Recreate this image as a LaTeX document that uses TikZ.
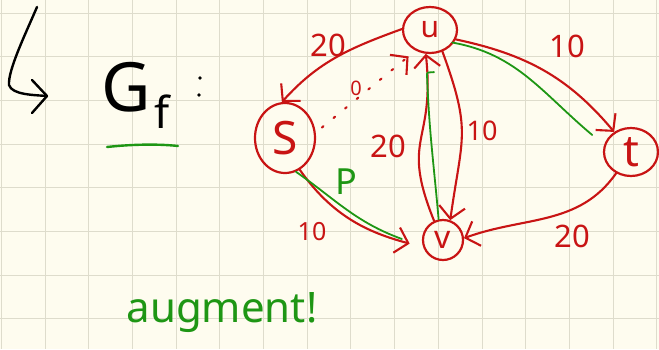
\documentclass[tikz,border=0pt]{standalone}
\usepackage{fontspec}
\setmainfont{Noto Sans}
\usetikzlibrary{arrows.meta,shapes.geometric}
\definecolor{paper}{HTML}{FEFCEF}
\definecolor{gridc}{HTML}{DEDCCC}
\definecolor{ink}{HTML}{C81414}
\definecolor{hl}{HTML}{1E9614}
\begin{document}
\begin{tikzpicture}[x=1pt,y=1pt,
  vert/.style={draw=ink,line width=2.2pt,ellipse,inner sep=0pt,text=ink},
  edge/.style={draw=ink,line width=2.1pt,line cap=round,
    -{Straight Barb[length=12pt,width=26pt,line width=2.1pt]}},
  hlpath/.style={draw=hl,line width=1.8pt,line cap=round},
  lab/.style={text=ink,inner sep=0pt,font=\fontsize{31}{31}\selectfont},
  fs/.style={font=\fontsize{#1}{#1}\selectfont}]
\fill[paper] (0,0) rectangle (659,-349);
\useasboundingbox (0,0) rectangle (659,-349);
\foreach \i in {0,...,15} \draw[gridc,line width=1pt] ({1.3+43.7*\i},0) -- ++(0,-349);
\foreach \j in {0,...,7} \draw[gridc,line width=1pt] (0,{-13-43.7*\j}) -- ++(659,0);

% left mark
\draw[black,line width=2.4pt,line cap=round,line join=round]
  (37,-7) .. controls (25,-35) and (8,-70) .. (9,-85) .. controls (12,-95) and (35,-95) .. (47,-96);
\draw[black,line width=2.4pt,line cap=round,line join=round] (32,-80) -- (47,-96) -- (32,-113);
\node[inner sep=0pt,fs=68] (G) at (126,-87) {G};
\node[inner sep=0pt,fs=44,anchor=center] (f) at (162,-112) {f};
\fill[black] (200,-78) circle (1.8pt) (199,-95) circle (1.8pt);
\draw[hl,line width=2.4pt,line cap=round] (107,-147) .. controls (135,-144) and (160,-144) .. (178,-146);

% vertices
\node[vert,minimum width=54pt,minimum height=46pt,fs=30] (u) at (430,-30) {u};
\node[vert,minimum width=60pt,minimum height=70pt,fs=46] (S) at (285,-138) {S};
\node[vert,minimum width=54pt,minimum height=48pt,fs=44] (t) at (631,-152) {t};
\node[vert,minimum width=40pt,minimum height=40pt,fs=32] (v) at (443,-240) {v};

% edges
\draw[edge] (u.178) to[out=200,in=48] (S.95);
\draw[edge] (u.-20) to[out=-12,in=130] (t.130);
\draw[edge] (u.-60) to[out=-70,in=82,looseness=1.3] (v.70);
\draw[edge] (v.115) to[out=112,in=-84,looseness=1.4] (u.-100);
\draw[edge,shorten >=14pt] (S.-65) to[out=-55,in=165] (v.200);
\draw[edge] (t.-125) to[out=-125,in=20] (v.5);
\draw[edge,dash pattern=on 2pt off 13pt,shorten <=8pt,shorten >=9pt] (S.10) -- (u.-125);

% highlighted path
\draw[hlpath] ([xshift=-20pt,yshift=1pt]v.180) to[out=160,in=-35] (S.-72);
\draw[hlpath] (v.102) to[out=95,in=-88] ([xshift=-3pt,yshift=-20pt]u.-90) to[out=92,in=200] ([xshift=4pt,yshift=-18pt]u.-90);
\draw[hlpath] ([xshift=-4pt,yshift=-4pt]u.-18) to[out=-10,in=140] ([xshift=-22pt,yshift=-3pt]t.130);

% labels
\node[lab] (l1) at (328,-45) {20};
\node[lab] (l2) at (567,-46) {10};
\node[lab,fs=27] (l3) at (482,-131) {10};
\node[lab] (l4) at (388,-146) {20};
\node[lab,fs=25] (l5) at (312,-232) {10};
\node[lab] (l6) at (572,-236) {20};
\node[lab,fs=20] (l7) at (356,-88) {0};
\node[inner sep=0pt,text=hl,fs=36] (p) at (346,-182) {P};
\node[inner sep=0pt,text=hl,fs=42,anchor=base] (aug) at (222,-322) {augment!};
\end{tikzpicture}
\end{document}
